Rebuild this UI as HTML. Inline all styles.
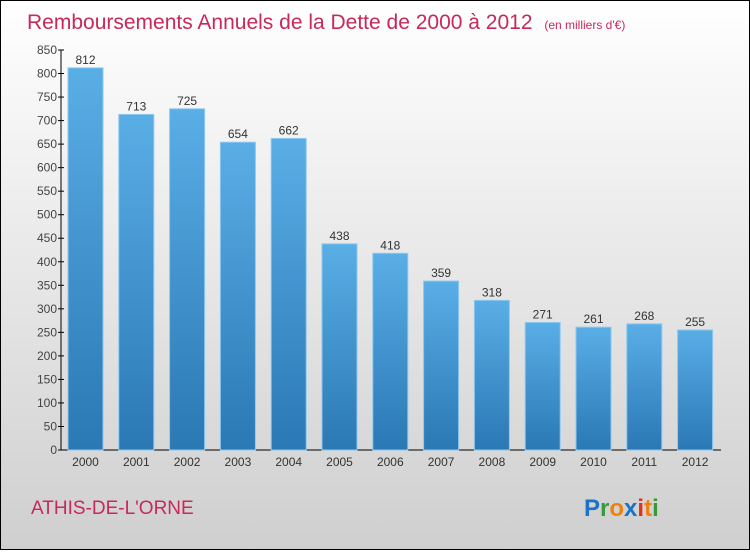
<!DOCTYPE html>
<html><head><meta charset="utf-8"><style>
html,body{margin:0;padding:0}
body{width:750px;height:550px;overflow:hidden}
#wrap{position:relative;width:748px;height:548px;border:1px solid #000;background:linear-gradient(#ffffff,#cfcfcf)}
text{font-family:"Liberation Sans",sans-serif}
</style></head><body>
<div id="wrap">
<svg id="chart" width="748" height="548">
<defs><linearGradient id="bg" x1="0" y1="0" x2="0" y2="1"><stop offset="0" stop-color="#5aaee6"/><stop offset="1" stop-color="#2a78b4"/></linearGradient></defs>
<text x="26" y="28" font-size="21" fill="#c8285a">Remboursements Annuels de la Dette de 2000 à 2012 <tspan font-size="12" dx="6">(en milliers d'€)</tspan></text>
<text x="30" y="513" font-size="19" fill="#c8285a">ATHIS-DE-L'ORNE</text>
<g font-size="24" font-weight="bold">
<text x="583" y="515"><tspan fill="#1a73c8">P</tspan><tspan fill="#3a9a3a">r</tspan><tspan fill="#f08010">o</tspan><tspan fill="#1a73c8">x</tspan><tspan fill="#e03020">i</tspan><tspan fill="#f08010">t</tspan><tspan fill="#3a9a3a">i</tspan></text>
</g>
<g id="plot"></g>
</svg>
</div>
<script>
const years=["2000","2001","2002","2003","2004","2005","2006","2007","2008","2009","2010","2011","2012"];
const values=[812,713,725,654,662,438,418,359,318,271,261,268,255];
const ticks=[0,50,100,150,200,250,300,350,400,450,500,550,600,650,700,750,800,850];
const NS="http://www.w3.org/2000/svg";
const g=document.getElementById('plot');
const y0=449,yTop=49,maxV=850,x0=60,step=50.8,bw=35,firstC=84.5;
const yS=v=>y0-(v/maxV)*(y0-yTop);
const xC=i=>firstC+i*step;
function mk(t,a){const e=document.createElementNS(NS,t);for(const k in a)e.setAttribute(k,a[k]);g.appendChild(e);return e;}
const ax=mk('line',{x1:x0,y1:yTop,x2:x0,y2:y0,stroke:'#000'});


const bx=mk('line',{x1:x0,y1:y0,x2:720,y2:y0,stroke:'#000'});


ticks.forEach(t=>{
 const tk=mk('line',{x1:x0-3,x2:x0+3,y1:yS(t),y2:yS(t),stroke:'#000'});
 
 
 const tl=mk('text',{x:x0-4,y:yS(t)+4,'text-anchor':'end','font-size':12,fill:'#444'});
 tl.textContent=t;
 
 
});
values.forEach((v,i)=>{
 const r=mk('rect',{x:xC(i)-bw/2,y:yS(v),width:bw,height:y0-yS(v),fill:'url(#bg)',stroke:'#8cc8f0','stroke-width':1});
 
 
 const vl=mk('text',{x:xC(i),y:yS(v)-4,'text-anchor':'middle','font-size':12,fill:'#333'});
 vl.textContent=v;
 
 
 const xl=mk('text',{x:xC(i),y:y0+16,'text-anchor':'middle','font-size':12,fill:'#333'});
 xl.textContent=years[i];
 
 
});
</script>
</body></html>
